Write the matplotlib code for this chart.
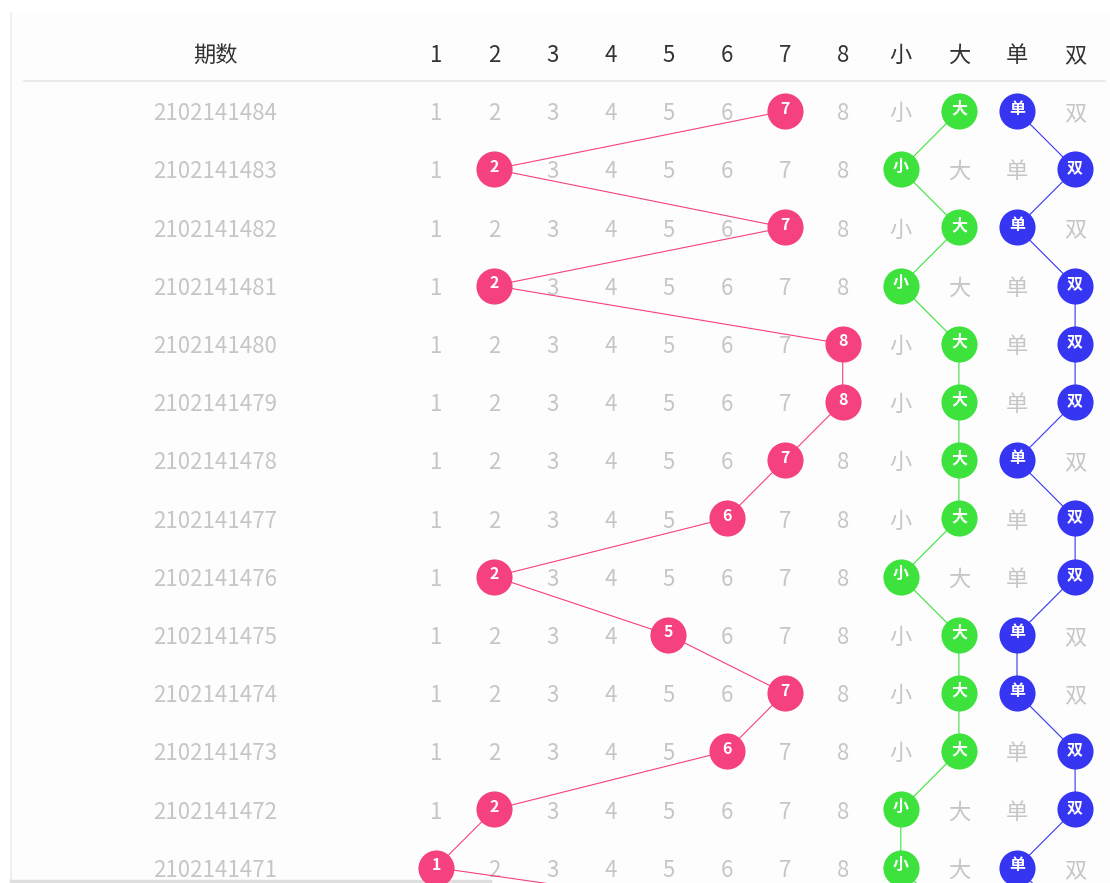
"""
走势图：期数 / 号码 1-8 / 大小 / 单双
"""
import matplotlib
matplotlib.use('Agg')
import matplotlib.pyplot as plt
from matplotlib.lines import Line2D

plt.rcParams['font.family'] = ['Noto Sans CJK SC', 'DejaVu Sans']

# ---- 数据 ----
periods = ['2102141484', '2102141483', '2102141482', '2102141481', '2102141480',
           '2102141479', '2102141478', '2102141477', '2102141476', '2102141475',
           '2102141474', '2102141473', '2102141472', '2102141471', '2102141470']
numbers = [7, 2, 7, 2, 8, 8, 7, 6, 2, 5, 7, 6, 2, 1, 8]
num_labels = ['1', '2', '3', '4', '5', '6', '7', '8']
size_labels = ['小', '大']
parity_labels = ['单', '双']
header_title = '期数'

PINK = '#f5417f'
GREEN = '#3de23d'
BLUE = '#3636f2'
GRAY = '#c6c6c6'
DARK = '#333333'

W, H = 1110, 883
fig = plt.figure(figsize=(W / 100, H / 100), dpi=100, facecolor='white')

# 卡片背景和边框（像素 -> figure 比例）
fig.patches.append(plt.Rectangle((11 / W, 0), (W - 11) / W, (H - 13) / H,
                                 transform=fig.transFigure, facecolor='#fdfdfd',
                                 edgecolor='none', zorder=0))
fig.add_artist(Line2D([11 / W, 11 / W], [1 - 13 / H, 0], color='#ececec', lw=1.2, zorder=0.5))
fig.add_artist(Line2D([24 / W, 1105 / W], [1 - 81 / H, 1 - 81 / H], color='#e6e6e6', lw=1.2, zorder=0.5))
fig.add_artist(Line2D([11 / W, 490 / W], [1 - 881 / H, 1 - 881 / H], color='#dedede', lw=2.5, zorder=0.5))

ax = fig.add_axes([0, 0, 1, 1])
ax.set_zorder(2)
ax.set_facecolor('none')
ax.axis('off')

col_w, row_h = 58.1, 58.2
x0, y0 = 436, 111
ax.set_xlim(-x0 / col_w, (W - x0) / col_w)
ax.set_ylim((H - y0) / row_h, -y0 / row_h)

all_cols = num_labels + size_labels + parity_labels
period_x = (215 - x0) / col_w
FS = 16
dy = 0.045  # 文字略向下，与参考图对齐

# 表头
ax.text(period_x, -1.0 + dy, header_title, ha='center', va='center', fontsize=FS, color=DARK)
for i, lab in enumerate(all_cols):
    ax.text(i, -1.0 + dy, lab, ha='center', va='center', fontsize=FS, color=DARK)

# 每期命中的列
hits = []
for n in numbers:
    c_num = n - 1
    c_size = 8 + (1 if n >= 5 else 0)
    c_par = 10 + (0 if n % 2 == 1 else 1)
    hits.append((c_num, c_size, c_par))

# 连线
rows = list(range(len(periods)))
for k, color in enumerate([PINK, GREEN, BLUE]):
    xs = [h[k] for h in hits]
    ax.plot(xs, rows, color=color, lw=0.8, zorder=2, solid_capstyle='round')

# 单元格
for r, (per, hit) in enumerate(zip(periods, hits)):
    ax.text(period_x, r + dy, per, ha='center', va='center', fontsize=FS, color=GRAY)
    colors = {hit[0]: PINK, hit[1]: GREEN, hit[2]: BLUE}
    for c, lab in enumerate(all_cols):
        if c in colors:
            ax.plot(c, r, 'o', ms=26, mec='none', color=colors[c], zorder=3)
            ax.text(c, r - 0.04, lab, ha='center', va='center', fontsize=11.5,
                    color='white', fontweight='bold', zorder=4)
        else:
            ax.text(c, r + dy, lab, ha='center', va='center', fontsize=FS,
                    color=GRAY, zorder=1)

fig.savefig('out.png', dpi=100, facecolor='white')
